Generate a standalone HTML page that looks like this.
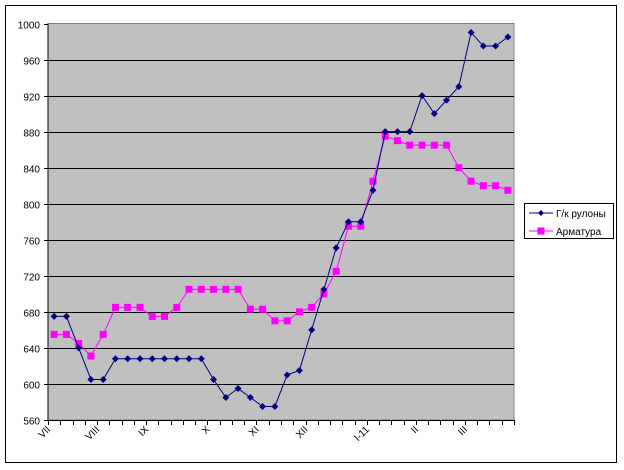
<!DOCTYPE html>
<html><head><meta charset="utf-8"><style>body{margin:0;background:#fff}svg{display:block}</style></head><body>
<svg width="624" height="470" xmlns="http://www.w3.org/2000/svg" font-family="Liberation Sans, sans-serif" font-size="10">
<rect x="0" y="0" width="624" height="470" fill="#fff"/>
<rect x="5.5" y="5.5" width="611" height="457" fill="none" stroke="#000" stroke-width="1"/>
<rect x="48" y="23.5" width="466" height="396.5" fill="#c0c0c0" stroke="#808080"/>
<g id="grid" stroke="#000" stroke-width="1"></g>
<g id="ylab" text-anchor="end" fill="#000"></g>
<g id="ticks" stroke="#000"></g>
<g id="xlab" text-anchor="end" fill="#000"></g>
<g id="series"></g>
<rect x="524.5" y="203.5" width="89" height="35" fill="#fff" stroke="#000"/>
<line x1="529" y1="213" x2="553" y2="213" stroke="#000080"/>
<polygon points="541,210 544,213 541,216 538,213" fill="#000080"/>
<text x="556" y="217">Г/к рулоны</text>
<line x1="529" y1="231" x2="553" y2="231" stroke="#ff00ff"/>
<rect x="537.5" y="227.5" width="7" height="7" fill="#ff00ff"/>
<text x="556" y="235">Арматура</text>
</svg>
<script>
const ns="http://www.w3.org/2000/svg";
function el(p,t,a,txt){const e=document.createElementNS(ns,t);for(const k in a)e.setAttribute(k,a[k]);if(txt)e.textContent=txt;document.getElementById(p).appendChild(e);return e;}
const Y=v=>420-(v-560)*0.9011;
for(let v=560;v<=1000;v+=40){const y=Math.round(Y(v))+0.5;if(v>560&&v<1000)el("grid","line",{x1:48,x2:514,y1:y,y2:y});el("ylab","text",{x:40,y:y+4},String(v));el("ticks","line",{x1:44,x2:48,y1:y,y2:y});}
el("ticks","line",{x1:48,x2:48,y1:23.5,y2:420});
el("ticks","line",{x1:48,x2:514,y1:420.5,y2:420.5});
const w=466/38;
for(let i=0;i<=38;i++){const x=Math.round(48+i*w)+0.5;el("ticks","line",{x1:x,x2:x,y1:420,y2:425});}
const labs=[["VII",0],["VIII",4],["IX",8],["X",13],["XI",17],["XII",21],["I-11",26],["II",30],["III",34]];
labs.forEach(([t,i])=>{const x=48+i*w+3,y=430;el("xlab","text",{x:x,y:y,transform:`rotate(-45 ${x} ${y})`},t);});
const b=[675,675,640,605,605,628,628,628,628,628,628,628,628,605,585,595,585,575,575,610,615,660,705,751,780,780,815,880,880,880,920,900,915,930,990,975,975,985];
const p=[655,655,645,631,655,685,685,685,675,675,685,705,705,705,705,705,683,683,670,670,680,685,700,725,775,775,825,875,870,865,865,865,865,840,825,820,820,815];
const X=i=>48+(i+0.5)*w;
el("series","polyline",{points:p.map((v,i)=>X(i)+","+Y(v)).join(" "),fill:"none",stroke:"#ff00ff","stroke-width":1});
p.forEach((v,i)=>el("series","rect",{x:X(i)-3.5,y:Y(v)-3.5,width:7,height:7,fill:"#ff00ff"}));
el("series","polyline",{points:b.map((v,i)=>X(i)+","+Y(v)).join(" "),fill:"none",stroke:"#000080","stroke-width":1});
b.forEach((v,i)=>{const x=X(i),y=Y(v);el("series","polygon",{points:`${x},${y-3.5} ${x+3.5},${y} ${x},${y+3.5} ${x-3.5},${y}`,fill:"#000080"});});
</script>
</body></html>
